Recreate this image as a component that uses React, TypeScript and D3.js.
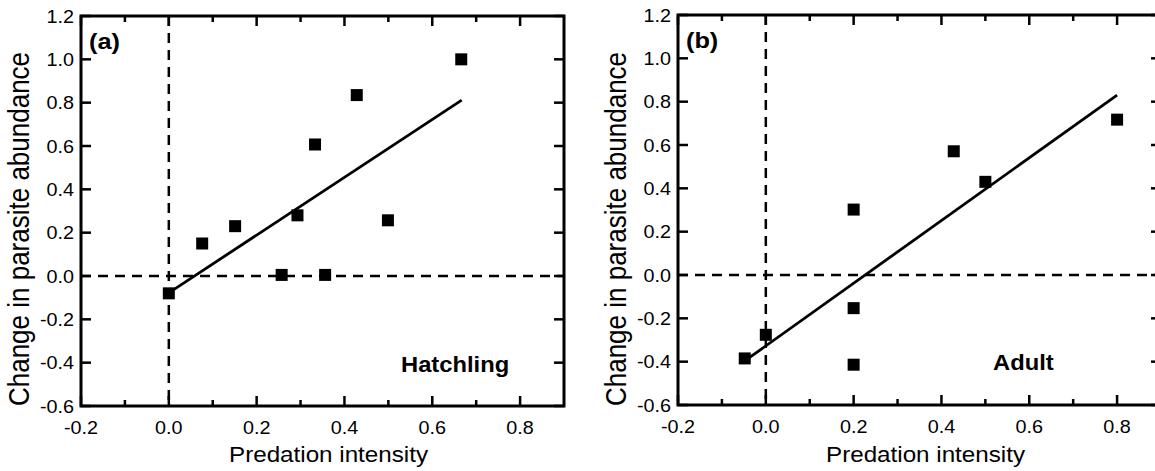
import React from "react";
import * as d3 from "d3";

// Panel (a): hatchlings
const hatchX = [0, 0.076, 0.151, 0.257, 0.293, 0.333, 0.356, 0.428, 0.499, 0.666];
const hatchY = [-0.08, 0.15, 0.23, 0.005, 0.28, 0.607, 0.005, 0.835, 0.257, 1.0];
const hatchFitX = [0, 0.667];
const hatchFitY = [-0.078, 0.812];

// Panel (b): adults
const adultX = [-0.048, 0, 0.2, 0.2, 0.2, 0.428, 0.5, 0.8];
const adultY = [-0.385, -0.276, 0.302, -0.153, -0.414, 0.571, 0.43, 0.717];
const adultFitX = [-0.04, 0.8];
const adultFitY = [-0.385, 0.83];

const xTicks = [-0.2, 0.0, 0.2, 0.4, 0.6, 0.8];
const xMinorTicks = [-0.1, 0.1, 0.3, 0.5, 0.7];
const yTicks = [-0.6, -0.4, -0.2, 0.0, 0.2, 0.4, 0.6, 0.8, 1.0, 1.2];

const FONT = "'Liberation Sans', Arial, Helvetica, sans-serif";
// plain hyphen for negatives, like the original figure
const fmt = (v) => v.toFixed(1).replace("-0.0", "0.0");

// text that is a bit wider than the font (the source figure is stretched sideways)
const Txt = ({ x, y, size, sx = 1.15, anchor = "middle", bold = false, rotate = 0, children }) => (
  <text
    transform={`translate(${x},${y}) scale(${sx},1)${rotate ? ` rotate(${rotate})` : ""}`}
    fontFamily={FONT}
    fontSize={size}
    fontWeight={bold ? "bold" : "normal"}
    textAnchor={anchor}
    fill="#000"
  >
    {children}
  </text>
);

const Panel = ({ left, right, top, bottom, xs, ys, fitX, fitY, tag, label, labelX, labelY }) => {
  const x = d3.scaleLinear().domain([-0.2, 0.9]).range([left, right]);
  const y = d3.scaleLinear().domain([-0.6, 1.2]).range([bottom, top]);
  const fit = d3.line().x((d) => x(d[0])).y((d) => y(d[1]));
  const major = 10;
  const minor = 6;

  return (
    <g>
      {/* reference lines at zero */}
      <line x1={x(0)} x2={x(0)} y1={top} y2={bottom} stroke="#000" strokeWidth={2.5} strokeDasharray="10,7" />
      <line x1={left} x2={right} y1={y(0)} y2={y(0)} stroke="#000" strokeWidth={2.5} strokeDasharray="10,7" />

      {/* ticks, inward on all four sides */}
      {xTicks.map((t) => (
        <g key={"xt" + t}>
          <line x1={x(t)} x2={x(t)} y1={bottom} y2={bottom - major} stroke="#000" strokeWidth={2.5} />
          <line x1={x(t)} x2={x(t)} y1={top} y2={top + major} stroke="#000" strokeWidth={2.5} />
        </g>
      ))}
      {xMinorTicks.map((t) => (
        <g key={"xm" + t}>
          <line x1={x(t)} x2={x(t)} y1={bottom} y2={bottom - minor} stroke="#000" strokeWidth={2.5} />
          <line x1={x(t)} x2={x(t)} y1={top} y2={top + minor} stroke="#000" strokeWidth={2.5} />
        </g>
      ))}
      {yTicks.map((t) => (
        <g key={"yt" + t}>
          <line x1={left} x2={left + major} y1={y(t)} y2={y(t)} stroke="#000" strokeWidth={2.5} />
          <line x1={right} x2={right - major} y1={y(t)} y2={y(t)} stroke="#000" strokeWidth={2.5} />
        </g>
      ))}

      {/* frame */}
      <rect x={left} y={top} width={right - left} height={bottom - top} fill="none" stroke="#000" strokeWidth={3} />

      {/* tick labels */}
      {xTicks.map((t) => (
        <Txt key={"xl" + t} x={x(t)} y={bottom + 28} size={18} sx={1.1}>
          {fmt(t)}
        </Txt>
      ))}
      {yTicks.map((t) => (
        <Txt key={"yl" + t} x={left - 7} y={y(t) + 6.5} size={18} sx={1.1} anchor="end">
          {fmt(t)}
        </Txt>
      ))}

      {/* axis titles */}
      <Txt x={(left + right) / 2 + 6} y={462} size={22} sx={1.1}>
        Predation intensity
      </Txt>
      <Txt x={left - 52} y={229} size={26} sx={1.1} rotate={-90}>
        Change in parasite abundance
      </Txt>

      {/* fitted line */}
      <path d={fit(fitX.map((v, i) => [v, fitY[i]]))} fill="none" stroke="#000" strokeWidth={2.8} />

      {/* points */}
      {xs.map((v, i) => (
        <rect key={"p" + i} x={x(v) - 6} y={y(ys[i]) - 6} width={12} height={12} fill="#000" />
      ))}

      <Txt x={left + 8} y={top + 33} size={22} sx={1.15} anchor="start" bold>
        {tag}
      </Txt>
      <Txt x={labelX} y={labelY} size={22} sx={1.08} anchor="start" bold>
        {label}
      </Txt>
    </g>
  );
};

export default function App() {
  return (
    <svg
      width={1155}
      height={471}
      style={{ position: "absolute", left: 0, top: 0, background: "#fff" }}
    >
      <rect width={1155} height={471} fill="#fff" />
      <Panel
        left={81}
        right={564}
        top={16}
        bottom={406}
        xs={hatchX}
        ys={hatchY}
        fitX={hatchFitX}
        fitY={hatchFitY}
        tag="(a)"
        label="Hatchling"
        labelX={401}
        labelY={372}
      />
      <Panel
        left={678}
        right={1161}
        top={15}
        bottom={405}
        xs={adultX}
        ys={adultY}
        fitX={adultFitX}
        fitY={adultFitY}
        tag="(b)"
        label="Adult"
        labelX={993}
        labelY={370}
      />
    </svg>
  );
}
